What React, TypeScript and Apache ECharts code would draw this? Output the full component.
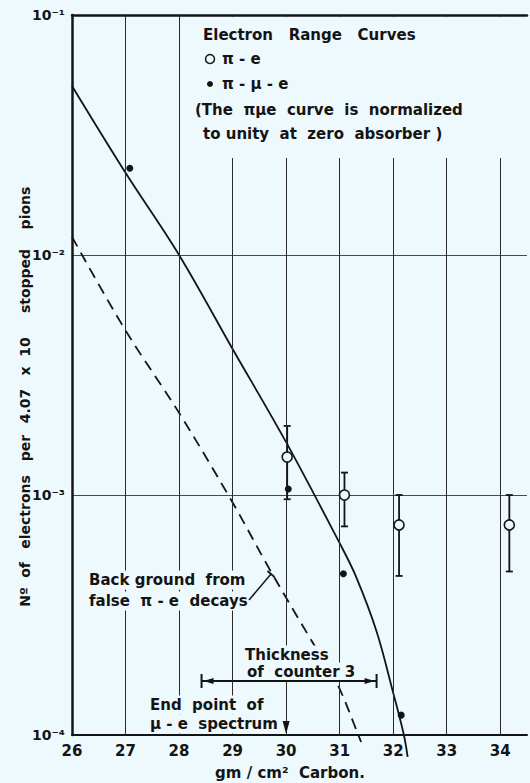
import React, { useEffect, useRef } from "react";
import * as echarts from "echarts";

// ---- data ----
const xTicks = [26, 27, 28, 29, 30, 31, 32, 33, 34];
const yTickLabels = ["10⁻⁴", "10⁻³", "10⁻²", "10⁻¹"]; // exponents -4..-1

// π-e (open circles) with error bars
const piEX = [30.02, 31.09, 32.11, 34.17];
const piEY = [1.44e-3, 1.0e-3, 0.75e-3, 0.75e-3];
const piELow = [0.96e-3, 0.74e-3, 0.46e-3, 0.48e-3];
const piEHigh = [1.94e-3, 1.24e-3, 1.0e-3, 1.0e-3];

// π-μ-e (filled dots)
const piMuEX = [27.08, 30.04, 31.07, 32.15];
const piMuEY = [2.3e-2, 1.06e-3, 4.7e-4, 1.21e-4];

// solid range curve
const solidX = [26, 27, 28, 29, 30, 31, 31.3, 31.69, 32, 32.2, 32.27];
const solidY = [5.06e-2, 2.2e-2, 1.0e-2, 4.06e-3, 1.66e-3, 6.3e-4, 4.6e-4, 2.7e-4, 1.5e-4, 1.0e-4, 8.1e-5];

// dashed background curve
const dashX = [26, 27, 28, 29, 29.72, 30.49, 30.93, 31.35, 31.4];
const dashY = [1.19e-2, 4.85e-3, 2.2e-3, 9.3e-4, 4.78e-4, 2.44e-4, 1.68e-4, 1.0e-4, 9.35e-5];

// thickness of counter 3 (gm/cm²)
const counterRange = [28.42, 31.69];
const endPointX = 30;

const BG = "#eef9fd";
const INK = "#141414";
const FONT = '"DejaVu Sans", sans-serif';

export default function App() {
  const ref = useRef<HTMLDivElement>(null);

  useEffect(() => {
    if (!ref.current) return;
    const chart = echarts.init(ref.current, undefined, { renderer: "svg" });

    const labelFont = { fontFamily: FONT, fontWeight: "bold" as const, fontSize: 14, color: INK };

    chart.setOption({
      animation: false,
      backgroundColor: BG,
      grid: { left: 72, right: 1, top: 15, bottom: 48 },
      xAxis: [
        {
          type: "value",
          min: 26,
          max: 34.5,
          interval: 1,
          axisLine: { show: true, onZero: false, lineStyle: { color: INK, width: 2 } },
          axisTick: { show: false },
          splitLine: { show: false },
          axisLabel: {
            ...labelFont,
            fontSize: 15,
            margin: 8,
            formatter: (v: number) => (Number.isInteger(v) ? String(v) : ""),
          },
        },
        {
          type: "value",
          position: "top",
          min: 26,
          max: 34.5,
          axisLine: { show: true, onZero: false, lineStyle: { color: INK, width: 2.5 } },
          axisTick: { show: false },
          axisLabel: { show: false },
          splitLine: { show: false },
        },
      ],
      yAxis: {
        type: "log",
        logBase: 10,
        min: 1e-4,
        max: 1e-1,
        axisLine: { show: true, lineStyle: { color: INK, width: 2.5 } },
        axisTick: { show: false },
        splitLine: { show: true, lineStyle: { color: "#4a4a4a", width: 1 } },
        axisLabel: {
          ...labelFont,
          margin: 7,
          formatter: (v: number) => {
            const e = Math.round(Math.log10(v));
            return yTickLabels[e + 4] ?? "";
          },
        },
      },
      series: [
        {
          type: "line",
          name: "grid",
          data: [],
          markLine: {
            silent: true,
            symbol: "none",
            label: { show: false },
            lineStyle: { color: "#2a2a2a", width: 1, type: "solid" },
            data: xTicks.slice(1).map((x) => ({ xAxis: x })),
          },
          z: 1,
        },
        {
          type: "line",
          name: "range",
          data: solidX.map((x, i) => [x, solidY[i]]),
          showSymbol: false,
          smooth: 0.35,
          clip: false,
          lineStyle: { color: INK, width: 1.8 },
          z: 3,
        },
        {
          type: "line",
          name: "background",
          data: dashX.map((x, i) => [x, dashY[i]]),
          showSymbol: false,
          smooth: 0.35,
          clip: false,
          lineStyle: { color: INK, width: 1.8, type: [11, 7] },
          z: 3,
        },
        {
          type: "custom",
          name: "errors",
          data: piEX.map((x, i) => [x, piELow[i], piEHigh[i]]),
          encode: { x: 0, y: [1, 2] },
          renderItem: (params: any, api: any) => {
            const x = api.value(0);
            const top = api.coord([x, api.value(2)]);
            const bot = api.coord([x, api.value(1)]);
            const s = { stroke: INK, lineWidth: 1.8 };
            return {
              type: "group",
              children: [
                { type: "line", shape: { x1: top[0], y1: top[1], x2: bot[0], y2: bot[1] }, style: s },
                { type: "line", shape: { x1: top[0] - 3.5, y1: top[1], x2: top[0] + 3.5, y2: top[1] }, style: s },
                { type: "line", shape: { x1: bot[0] - 3.5, y1: bot[1], x2: bot[0] + 3.5, y2: bot[1] }, style: s },
              ],
            };
          },
          z: 4,
        },
        {
          type: "scatter",
          name: "π-e",
          data: piEX.map((x, i) => [x, piEY[i]]),
          symbol: "circle",
          symbolSize: 10,
          itemStyle: { color: BG, borderColor: INK, borderWidth: 1.6, opacity: 1 },
          z: 5,
        },
        {
          type: "scatter",
          name: "π-μ-e",
          data: piMuEX.map((x, i) => [x, piMuEY[i]]),
          symbol: "circle",
          symbolSize: 7,
          itemStyle: { color: INK, opacity: 1 },
          z: 5,
        },
      ],
    });

    const txt = (text: string, x: number, y: number, opts: any = {}) => ({
      type: "text",
      x,
      y,
      z: 120,
      rotation: opts.rotation ?? 0,
      style: {
        text,
        font: `bold ${opts.size ?? 15}px ${FONT}`,
        fill: INK,
        textAlign: opts.align ?? "left",
        textVerticalAlign: "middle",
        align: opts.align ?? "left",
        verticalAlign: "middle",
        backgroundColor: opts.bg ? BG : undefined,
        padding: opts.bg ? [2, 3, 2, 3] : undefined,
      },
    });

    const [bx1] = chart.convertToPixel({ gridIndex: 0 }, [counterRange[0], 1e-3]) as number[];
    const [bx2] = chart.convertToPixel({ gridIndex: 0 }, [counterRange[1], 1e-3]) as number[];
    const [ex, ey] = chart.convertToPixel({ gridIndex: 0 }, [endPointX, 1e-4]) as number[];
    const by = 681;

    const lineEl = (x1: number, y1: number, x2: number, y2: number, w = 1.8) => ({
      type: "line",
      z: 130,
      shape: { x1, y1, x2, y2 },
      style: { stroke: INK, lineWidth: w },
    });
    const poly = (pts: number[][]) => ({
      type: "polygon",
      z: 130,
      shape: { points: pts },
      style: { fill: INK },
    });

    const yWords: [string, number][] = [
      ["pions", 208],
      ["stopped", 281],
      ["10", 347],
      ["x", 371],
      ["4.07", 406],
      ["per", 448],
      ["electrons", 512],
      ["of", 570],
      ["Nº", 597],
    ];

    chart.setOption({
      graphic: [
        // legend box (hides grid lines behind the legend text)
        { type: "rect", z: 100, shape: { x: 190, y: 17, width: 340, height: 141 }, style: { fill: BG } },
        txt("Electron\u00a0\u00a0 Range\u00a0\u00a0 Curves", 203, 35),
        { type: "circle", z: 120, shape: { cx: 210, cy: 59, r: 4.5 }, style: { fill: BG, stroke: INK, lineWidth: 1.5 } },
        txt("π\u00a0-\u00a0e", 222, 59),
        { type: "circle", z: 120, shape: { cx: 210, cy: 84, r: 3 }, style: { fill: INK } },
        txt("π\u00a0-\u00a0μ\u00a0-\u00a0e", 222, 84),
        txt("(The\u00a0 πμe\u00a0 curve\u00a0 is\u00a0 normalized", 195, 110),
        txt("to unity\u00a0 at\u00a0 zero\u00a0 absorber\u00a0)", 203, 134),

        // background annotation
        txt("Back ground\u00a0 from", 86, 580, { bg: true }),
        txt("false\u00a0 π\u00a0-\u00a0e\u00a0 decays", 86, 601, { bg: true }),
        lineEl(249, 600, 271, 574, 1.5),
        lineEl(267.5, 571, 274.5, 577, 1.8),

        // thickness of counter 3
        txt("Thickness", 242, 655, { bg: true }),
        txt("of\u00a0 counter\u00a03", 244, 672, { bg: true }),
        lineEl(bx1, by, bx2, by, 2),
        lineEl(bx1, by - 7, bx1, by + 7, 2),
        lineEl(bx2, by - 7, bx2, by + 7, 2),
        poly([[bx1 + 2, by], [bx1 + 12, by - 3], [bx1 + 12, by + 3]]),
        poly([[bx2 - 2, by], [bx2 - 12, by - 3], [bx2 - 12, by + 3]]),

        // end point of μ-e spectrum
        txt("End\u00a0 point\u00a0 of", 147, 705, { bg: true }),
        txt("μ\u00a0-\u00a0e\u00a0 spectrum", 147, 724, { bg: true }),
        poly([[ex, ey - 1], [ex - 3.5, ey - 14], [ex + 3.5, ey - 14]]),

        // axis titles
        txt("gm / cm²\u00a0 Carbon.", 290, 773, { align: "center" }),
        ...yWords.map(([w, y]) => txt(w, 25, y, { align: "center", rotation: Math.PI / 2, size: 14 })),
      ],
    });

    return () => chart.dispose();
  }, []);

  return (
    <div
      ref={ref}
      style={{ position: "fixed", left: 0, top: 0, width: 530, height: 783, background: BG }}
    />
  );
}
